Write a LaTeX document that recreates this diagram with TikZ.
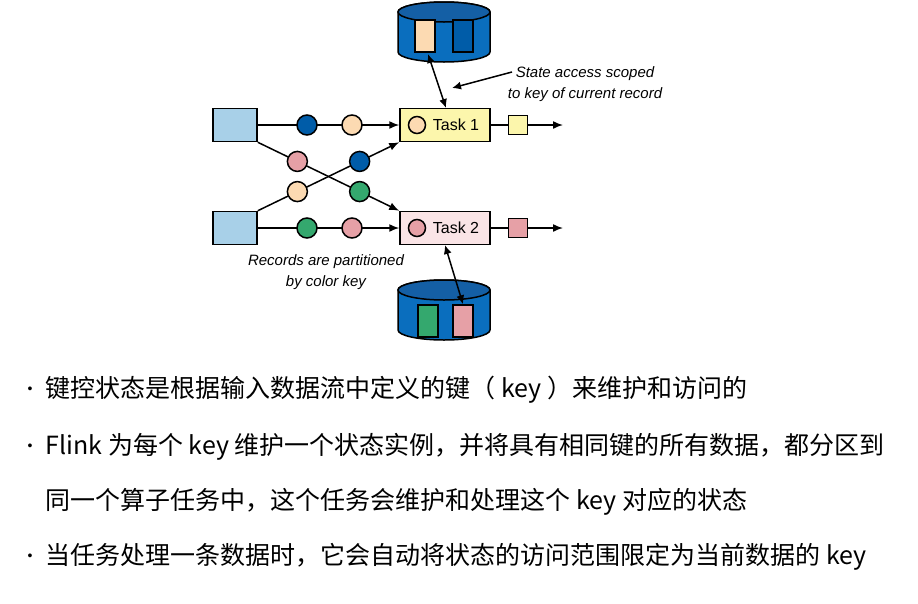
\documentclass[tikz,border=0pt]{standalone}
\usepackage{fontspec}
\setsansfont{Liberation Sans}
\newfontfamily\cjk{Noto Sans CJK SC}
\usetikzlibrary{calc,arrows.meta}

\definecolor{srcblue}{RGB}{168,208,232}
\definecolor{keyblue}{RGB}{0,92,168}
\definecolor{keypeach}{RGB}{252,218,178}
\definecolor{keypink}{RGB}{230,160,166}
\definecolor{keygreen}{RGB}{52,168,110}
\definecolor{taskyellow}{RGB}{252,246,172}
\definecolor{taskpink}{RGB}{250,228,230}
\definecolor{dbblue}{RGB}{10,110,190}
\definecolor{dbtop}{RGB}{20,95,165}

\tikzset{
  every path/.style={line width=1.5pt},
  src/.style={draw, fill=srcblue, minimum width=44pt, minimum height=33pt},
  dot/.style={draw, circle, minimum size=20pt, inner sep=0pt},
  task/.style={draw, minimum width=90pt, minimum height=33pt, font=\sffamily\fontsize{16}{18}\selectfont},
  outbox/.style={draw, minimum size=19pt, inner sep=0pt},
  slot/.style={draw, minimum width=20pt, minimum height=32pt, inner sep=0pt},
  flow/.style={-{Latex[length=10pt,width=8pt]}},
  note/.style={font=\sffamily\itshape\fontsize{15}{21}\selectfont, align=center},
  bulletline/.style={anchor=west, font=\cjk\fontsize{25}{28}\selectfont, inner sep=0pt},
}
\newcommand{\dbshape}[2]{%
  \draw[fill=dbblue] (#1-46,#2-21) -- (#1-46,#2+19) arc[start angle=180,end angle=0,x radius=46,y radius=10]
    -- (#1+46,#2-21) arc[start angle=0,end angle=-180,x radius=46,y radius=10] -- cycle;
  \draw[fill=dbtop] (#1,#2-21) ellipse[x radius=46,y radius=10];}

\begin{document}
\begin{tikzpicture}[x=1pt,y=-1pt]
  \useasboundingbox (0,0) rectangle (918,603);

  % Stores
  \dbshape{444}{33}
  \dbshape{444}{311}

  % Define nodes
  \node[src]                         (s1) at (235,125) {};
  \node[src]                         (s2) at (235,228) {};
  \node[task, fill=taskyellow]       (t1) at (445,125) {\hspace{22pt}Task 1};
  \node[task, fill=taskpink]         (t2) at (445,228) {\hspace{22pt}Task 2};
  \node[outbox, fill=taskyellow]     (o1) at (518,125) {};
  \node[outbox, fill=keypink]        (o2) at (518,228) {};
  \coordinate                        (e1) at (563,125);
  \coordinate                        (e2) at (563,228);
  \node[slot, fill=keypeach]         (k1a) at (425,36) {};
  \node[slot, fill=keyblue]          (k1b) at (463,36) {};
  \node[slot, fill=keygreen]         (k2a) at (428,321) {};
  \node[slot, fill=keypink]          (k2b) at (463,321) {};

  % Connect the nodes
  \draw[flow] (s1) -- (t1);
  \draw[flow] (s2) -- (t2);
  \draw[flow] (s1.south east) -- (t2.north west);
  \draw[flow] (s2.north east) -- (t1.south west);
  \draw[flow] (o1) -- (e1);
  \draw[flow] (o2) -- (e2);
  \draw (t1) -- (o1);
  \draw (t2) -- (o2);

  % Records
  \node[dot, fill=keyblue]   (r1) at (307,125) {};
  \node[dot, fill=keypeach]  (r2) at (352,125) {};
  \node[dot, fill=keygreen]  (r3) at (307,228) {};
  \node[dot, fill=keypink]   (r4) at (352,228) {};
  \node[dot, fill=keypink]   (r5) at ($(s1.south east)!0.28!(t2.north west)$) {};
  \node[dot, fill=keygreen]  (r6) at ($(s1.south east)!0.72!(t2.north west)$) {};
  \node[dot, fill=keypeach]  (r7) at ($(s2.north east)!0.28!(t1.south west)$) {};
  \node[dot, fill=keyblue]   (r8) at ($(s2.north east)!0.72!(t1.south west)$) {};
  \node[dot, fill=keypeach, minimum size=17pt] (c1) at (417,125) {};
  \node[dot, fill=keypink, minimum size=17pt]  (c2) at (417,228) {};

  % State access
  \coordinate (a1) at (446,108);
  \coordinate (a2) at (445,245);
  \coordinate (b1) at (428,54);
  \draw[{Latex[length=9pt,width=8pt]}-{Latex[length=9pt,width=8pt]}] (b1) -- (a1);
  \draw[{Latex[length=9pt,width=8pt]}-{Latex[length=9pt,width=8pt]}] (a2) -- (k2b.north);

  % Notes
  \node[note] (n1) at (585,84) {State access scoped\\to key of current record};
  \coordinate (p1) at (452,88);
  \coordinate (q1) at (512,72);
  \draw[-{Latex[length=9pt,width=8pt]}] (q1) -- (p1);
  \node[note] (n2) at (326,272) {Records are partitioned\\by color key};

  % Text
  \node[bulletline] (l0) at (45,390) {键控状态是根据输入数据流中定义的键（ key ）来维护和访问的};
  \node[bulletline] (l1) at (45,447) {Flink 为每个 key 维护一个状态实例，并将具有相同键的所有数据，都分区到};
  \node[bulletline] (l2) at (45,502) {同一个算子任务中，这个任务会维护和处理这个 key 对应的状态};
  \node[bulletline] (l3) at (45,557) {当任务处理一条数据时，它会自动将状态的访问范围限定为当前数据的 key};
  \foreach \y/\n in {390/b0,447/b1,557/b3}
    \node[font=\sffamily\fontsize{14}{14}\selectfont] (\n) at (30,\y) {•};

\end{tikzpicture}
\end{document}
